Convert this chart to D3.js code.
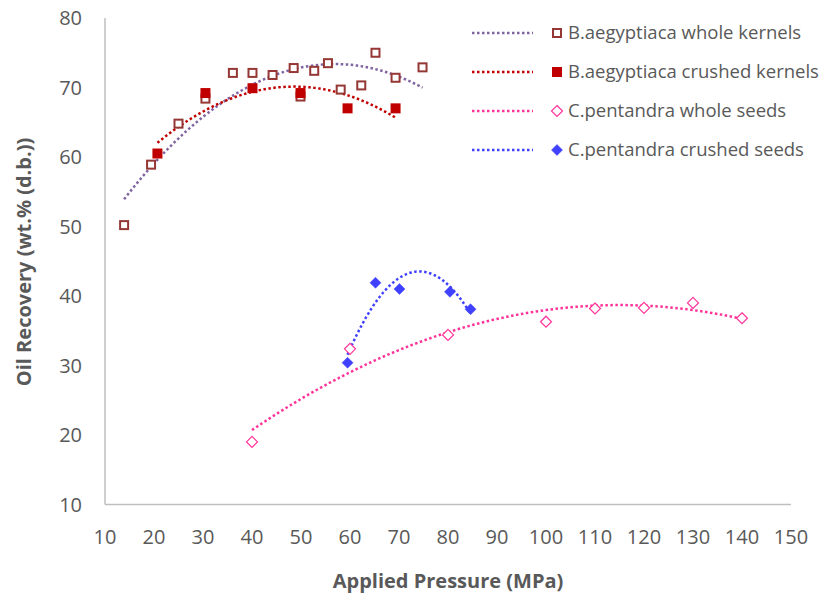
<!DOCTYPE html>
<html>
<head>
<meta charset="utf-8">
<script src="https://cdn.jsdelivr.net/npm/d3@7"></script>
<style>
  body { margin: 0; background: #fff; }
  svg { display: block; font-family: 'Open Sans', sans-serif; }
</style>
</head>
<body>
<div id="chart"></div>
<script>
// B.aegyptiaca whole kernels
const bwX = [13.9, 19.4, 25, 30.5, 36.1, 40.1, 44.2, 48.5, 49.9, 52.7, 55.5, 58.1, 62.3, 65.2, 69.3, 74.8];
const bwY = [50.2, 58.9, 64.8, 68.4, 72.1, 72.1, 71.8, 72.8, 68.7, 72.4, 73.5, 69.7, 70.3, 75.0, 71.4, 72.9];
// B.aegyptiaca crushed kernels
const bcX = [20.7, 30.5, 40.1, 49.9, 59.5, 69.3];
const bcY = [60.5, 69.2, 69.9, 69.2, 67.0, 67.0];
// C.pentandra whole seeds
const cwX = [40, 60, 80, 100, 110, 120, 130, 140];
const cwY = [19.0, 32.4, 34.4, 36.3, 38.2, 38.3, 39.0, 36.8];
// C.pentandra crushed seeds
const ccX = [59.5, 65.2, 70.1, 80.4, 84.6];
const ccY = [30.4, 41.9, 41.0, 40.6, 38.1];

const xTicks = d3.range(10, 151, 10);
const yTicks = d3.range(10, 81, 10);

const series = [
  { name: 'B.aegyptiaca whole kernels', xs: bwX, ys: bwY, marker: 'square', fill: '#fff', stroke: '#953735', trend: '#8064a2' },
  { name: 'B.aegyptiaca crushed kernels', xs: bcX, ys: bcY, marker: 'square', fill: '#c00000', stroke: '#c00000', trend: '#c00000' },
  { name: 'C.pentandra whole seeds', xs: cwX, ys: cwY, marker: 'diamond', fill: '#fff', stroke: '#ff3399', trend: '#ff3399' },
  { name: 'C.pentandra crushed seeds', xs: ccX, ys: ccY, marker: 'diamond', fill: '#4040ff', stroke: '#4040ff', trend: '#4040ff' },
];

const width = 822, height = 601;
const x = d3.scaleLinear().domain([10, 150]).range([105, 791]);
const y = d3.scaleLinear().domain([10, 80]).range([504.5, 18]);

const svg = d3.select('#chart').append('svg')
  .attr('width', width).attr('height', height);

// order-2 polynomial least squares, like the spreadsheet trendline
const quadFit = (xs, ys) => {
  const s = [0, 0, 0, 0, 0];
  const t = [0, 0, 0];
  xs.forEach((xv, i) => {
    for (let k = 0; k < 5; k++) s[k] += Math.pow(xv, k);
    for (let k = 0; k < 3; k++) t[k] += ys[i] * Math.pow(xv, k);
  });
  const m = [
    [s[0], s[1], s[2], t[0]],
    [s[1], s[2], s[3], t[1]],
    [s[2], s[3], s[4], t[2]],
  ];
  for (let i = 0; i < 3; i++) {
    for (let j = i + 1; j < 3; j++) {
      const f = m[j][i] / m[i][i];
      for (let k = i; k < 4; k++) m[j][k] -= f * m[i][k];
    }
  }
  const c = [0, 0, 0];
  for (let i = 2; i >= 0; i--) {
    let v = m[i][3];
    for (let k = i + 1; k < 3; k++) v -= m[i][k] * c[k];
    c[i] = v / m[i][i];
  }
  return (xv) => c[0] + c[1] * xv + c[2] * xv * xv;
};

// axes lines
svg.append('line')
  .attr('x1', x(10)).attr('x2', x(10)).attr('y1', y(80)).attr('y2', y(10))
  .attr('stroke', '#bfbfbf').attr('stroke-width', 1.5);
svg.append('line')
  .attr('x1', x(10)).attr('x2', x(150)).attr('y1', y(10)).attr('y2', y(10))
  .attr('stroke', '#bfbfbf').attr('stroke-width', 1.5);

// tick labels
svg.append('g').selectAll('text').data(yTicks).join('text')
  .attr('x', 82).attr('y', (d) => y(d)).attr('dy', '0.35em')
  .attr('text-anchor', 'end').attr('fill', '#595959').attr('font-size', 20)
  .text((d) => d);
svg.append('g').selectAll('text').data(xTicks).join('text')
  .attr('x', (d) => x(d)).attr('y', 537).attr('dy', '0.35em')
  .attr('text-anchor', 'middle').attr('fill', '#595959').attr('font-size', 20)
  .text((d) => d);

// axis titles
svg.append('text')
  .attr('x', 448).attr('y', 581).attr('dy', '0.35em')
  .attr('text-anchor', 'middle').attr('fill', '#595959')
  .attr('font-size', 20).attr('font-weight', 'bold')
  .text('Applied Pressure (MPa)');
svg.append('text')
  .attr('transform', 'translate(24,262) rotate(-90)').attr('dy', '0.35em')
  .attr('text-anchor', 'middle').attr('fill', '#595959')
  .attr('font-size', 20).attr('font-weight', 'bold')
  .text('Oil Recovery (wt.% (d.b.))');

const line = d3.line().x((d) => x(d[0])).y((d) => y(d[1]));

const drawMarker = (g, s, cx, cy) => {
  if (s.marker === 'square') {
    const open = s.fill === '#fff';
    const sz = open ? 8 : 10;
    g.append('rect')
      .attr('x', cx - sz / 2).attr('y', cy - sz / 2)
      .attr('width', sz).attr('height', sz)
      .attr('fill', s.fill).attr('stroke', s.stroke)
      .attr('stroke-width', open ? 2 : 0);
  } else {
    const r = 5.5;
    g.append('path')
      .attr('d', `M${cx},${cy - r}L${cx + r},${cy}L${cx},${cy + r}L${cx - r},${cy}Z`)
      .attr('fill', s.fill).attr('stroke', s.stroke)
      .attr('stroke-width', s.fill === '#fff' ? 1.2 : 0.5);
  }
};

// trendlines
series.forEach((s) => {
  const f = quadFit(s.xs, s.ys);
  const [x0, x1] = d3.extent(s.xs);
  const pts = d3.range(0, 101).map((i) => {
    const xv = x0 + (x1 - x0) * i / 100;
    return [xv, f(xv)];
  });
  svg.append('path')
    .attr('d', line(pts))
    .attr('fill', 'none').attr('stroke', s.trend)
    .attr('stroke-width', 2.5).attr('stroke-dasharray', '2.5 2.5');
});

// markers
series.forEach((s) => {
  const g = svg.append('g');
  s.xs.forEach((xv, i) => drawMarker(g, s, x(xv), y(s.ys[i])));
});

// legend
const legend = svg.append('g');
series.forEach((s, i) => {
  const ly = 33 + i * 39;
  legend.append('line')
    .attr('x1', 472).attr('x2', 533).attr('y1', ly).attr('y2', ly)
    .attr('stroke', s.trend).attr('stroke-width', 2.5).attr('stroke-dasharray', '2.5 2.5');
  drawMarker(legend, s, 557, ly);
  legend.append('text')
    .attr('x', 568).attr('y', ly).attr('dy', '0.35em')
    .attr('fill', '#595959').attr('font-size', 18.5)
    .text(s.name);
});
</script>
</body>
</html>
